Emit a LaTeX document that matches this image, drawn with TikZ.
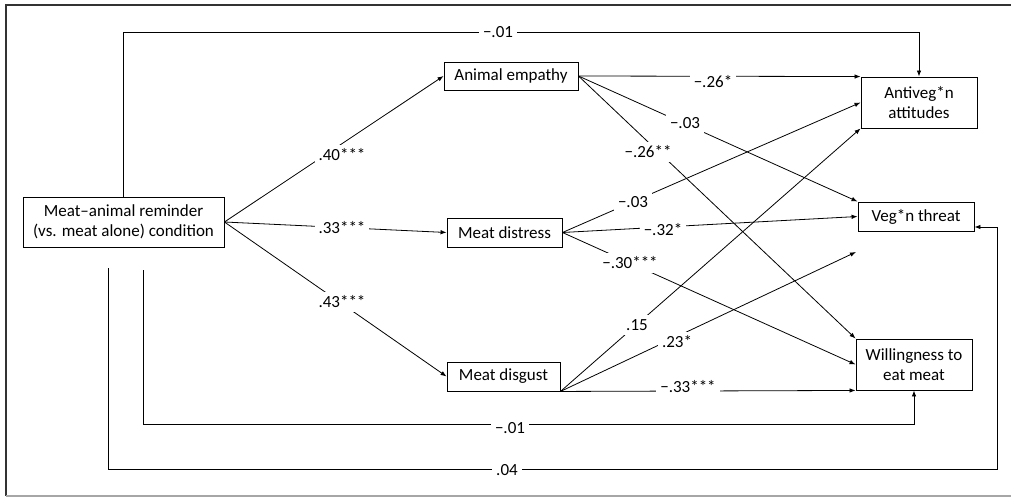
\documentclass[tikz,border=0pt]{standalone}
\usepackage{fontspec}
\setmainfont{Carlito}
\usetikzlibrary{arrows.meta}
\begin{document}
\begin{tikzpicture}[x=1pt,y=-1pt,
  box/.style={draw, line width=0.9pt, inner sep=0pt, align=center,
    font=\fontsize{17}{20.5}\selectfont},
  lbl/.style={fill=white, inner sep=4pt, font=\fontsize{17}{20}\selectfont},
  conn/.style={line width=0.8pt, -{Latex[length=6pt,width=4.5pt]}},
  plain/.style={line width=0.8pt}]
\useasboundingbox (0,0) rectangle (1011,497);

% outer frame
\draw[line width=1.5pt, black!80] (1011,5) -- (6,5) -- (6,496);
\draw[line width=1.2pt, black!35] (6,496) -- (1011,496);

% variables
\node[box, minimum width=201pt, minimum height=50pt] (src) at (123.5,222)
  {Meat–animal reminder\\(vs. meat alone) condition};
\node[box, minimum width=134pt, minimum height=28pt] (emp) at (511,76) {Animal empathy};
\node[box, minimum width=115pt, minimum height=29pt] (dis) at (504.5,232.5) {Meat distress};
\node[box, minimum width=113pt, minimum height=29pt] (dsg) at (503.5,376.5) {Meat disgust};
\node[box, minimum width=116pt, minimum height=51pt] (anti) at (919,102.5) {Antiveg*n\\attitudes};
\node[box, minimum width=116pt, minimum height=29pt] (thr) at (916,216.5) {Veg*n threat};
\node[box, minimum width=116pt, minimum height=51pt] (will) at (914,364.5) {Willingness to\\eat meat};

% bend points and free ends
\coordinate (topbend) at (123.5,32);
\coordinate (c1) at (143,270);
\coordinate (c1b) at (143,424);
\coordinate (c2) at (108,268);
\coordinate (c2b) at (108,469);
\coordinate (c2c) at (997,469);
\coordinate (c2d) at (997,227);
\coordinate (thrin) at (thr.east |- c2d);
\coordinate (dsgend) at (856,252);

% direct paths
\draw[conn] (src.north) -- (topbend) -| (anti.north);
\draw[conn] (c1) -- (c1b) -| (will.south);
\draw[plain] (c2) -- (c2b) -- (c2c) -- (c2d);
\draw[conn] (c2d) -- (thrin);

% condition to mediators
\draw[conn] (src.east) -- (emp.west);
\draw[conn] (src.east) -- (dis.west);
\draw[conn] (src.east) -- (dsg.west);

% mediators to outcomes
\draw[conn] (emp.east) -- (anti.north west);
\draw[conn] (emp.east) -- (thr.north west);
\draw[conn] (emp.east) -- (will.north west);
\draw[conn] (dis.east) -- (anti.west);
\draw[conn] (dis.east) -- (thr.west);
\draw[conn] (dis.east) -- (will.west);
\draw[conn] (dsg.south east) -- (anti.south west);
\draw[conn] (dsg.south east) -- (dsgend);
\draw[conn] (dsg.south east) -- (will.south west);

% path coefficients
\node[lbl] (l1) at (498,32) {−.01};
\node[lbl] (l2) at (342,155) {.40***};
\node[lbl] (l3) at (342,228) {.33***};
\node[lbl] (l4) at (342,302) {.43***};
\node[lbl] (l5) at (713,82) {−.26*};
\node[lbl] (l6) at (685,123) {−.03};
\node[lbl] (l7) at (648,152) {−.26**};
\node[lbl] (l8) at (633,202) {−.03};
\node[lbl] (l9) at (663,230) {−.32*};
\node[lbl] (l10) at (630,263) {−.30***};
\node[lbl] (l11) at (637,325) {.15};
\node[lbl] (l12) at (677,342) {.23*};
\node[lbl] (l13) at (688,387) {−.33***};
\node[lbl] (l14) at (510,428) {−.01};
\node[lbl] (l15) at (507,470) {.04};
\end{tikzpicture}
\end{document}
